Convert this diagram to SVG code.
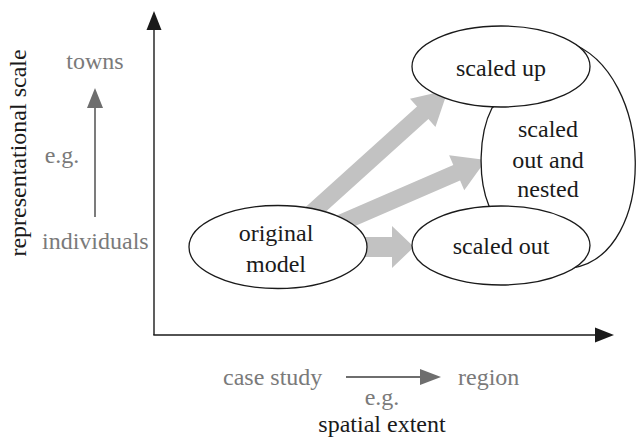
<svg xmlns="http://www.w3.org/2000/svg" width="636" height="443" viewBox="0 0 636 443">
<style>
text{font-family:"Liberation Serif","Times New Roman",serif;font-size:24px}
.g{fill:#7a7a7a}
.k{fill:#1a1a1a}
.node{fill:#fff;stroke:#1a1a1a;stroke-width:1.3}
.big{fill:#c2c2c2}
.ax{stroke:#1a1a1a;stroke-width:1.4;fill:none}
.ex{stroke:#6e6e6e;stroke-width:1.8;fill:none}
</style>
<rect width="636" height="443" fill="#fff"/>
<g id="connectors">
<polygon class="big" transform="translate(295,228) rotate(-42.05)" points="0,-8.5 172,-8.5 172,-19 206,0 172,19 172,8.5 0,8.5"/>
<polygon class="big" transform="translate(320,232) rotate(-23.45)" points="0,-8.5 149,-8.5 149,-19 181,0 149,19 149,8.5 0,8.5"/>
<polygon class="big" points="340,237 392,237 392,226 414,247 392,268 392,257 340,257"/>
</g>
<g id="axes">
<line class="ax" x1="154" y1="335" x2="154" y2="28"/>
<polygon fill="#1a1a1a" points="154,11 146.5,30 161.5,30"/>
<line class="ax" x1="153.3" y1="335" x2="598" y2="335"/>
<polygon fill="#1a1a1a" points="614,335 595,327.5 595,342.5"/>
<text class="k" transform="translate(26,153) rotate(-90)" text-anchor="middle">representational scale</text>
<text class="k" x="382" y="432" text-anchor="middle">spatial extent</text>
</g>
<g id="examples">
<text class="g" x="95" y="69" text-anchor="middle">towns</text>
<line class="ex" x1="95" y1="217" x2="95" y2="104"/>
<polygon fill="#6e6e6e" points="95,88 87,108 103,108"/>
<text class="g" x="62" y="163" text-anchor="middle">e.g.</text>
<text class="g" x="42" y="249">individuals</text>
<text class="g" x="223" y="385">case study</text>
<line class="ex" x1="346" y1="377" x2="424" y2="377"/>
<polygon fill="#6e6e6e" points="441,377 420,369 420,385"/>
<text class="g" x="382" y="405" text-anchor="middle">e.g.</text>
<text class="g" x="458" y="385">region</text>
</g>
<g id="nested">
<path class="node" d="M492,108 C478,135 478,180 489,206 L572,268 C658,255 656,72 568,42 Z"/>
<text class="k" x="548" y="137" text-anchor="middle">scaled</text>
<text class="k" x="548" y="168" text-anchor="middle">out and</text>
<text class="k" x="548" y="197" text-anchor="middle">nested</text>
</g>
<g id="original">
<ellipse class="node" cx="278" cy="247" rx="89" ry="41.5"/>
<text class="k" x="276" y="241" text-anchor="middle">original</text>
<text class="k" x="276" y="272" text-anchor="middle">model</text>
</g>
<g id="scaled-up">
<ellipse class="node" cx="501" cy="66.5" rx="89" ry="40.5"/>
<text class="k" x="501" y="76" text-anchor="middle">scaled up</text>
</g>
<g id="scaled-out">
<ellipse class="node" cx="501" cy="245.5" rx="89" ry="39.5"/>
<text class="k" x="501" y="254" text-anchor="middle">scaled out</text>
</g>
</svg>
